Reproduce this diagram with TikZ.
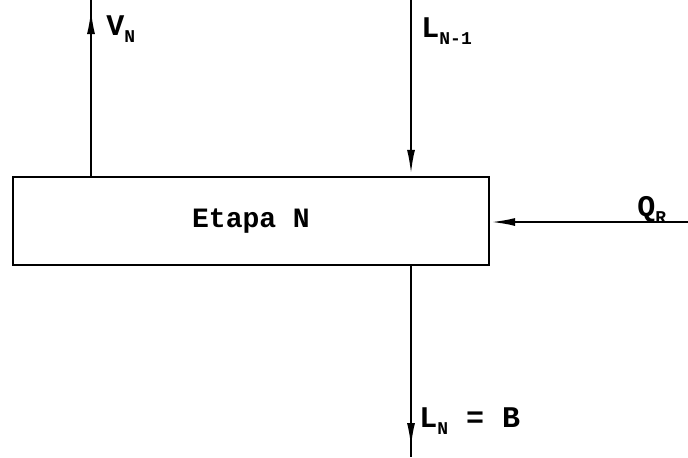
\documentclass[tikz,border=0pt]{standalone}
\usepackage{fontspec}
\setmonofont{Liberation Mono}
\usetikzlibrary{arrows.meta,positioning,calc}
\newcommand{\lowidx}[1]{\raisebox{-0.45ex}{\fontsize{9}{9}\selectfont #1}}

\begin{document}
\begin{tikzpicture}[
    x=0.5pt, y=-0.5pt,
    stage/.style={draw, line width=1.2pt, minimum width=238pt, minimum height=44pt, font=\ttfamily\bfseries\fontsize{14}{16}\selectfont},
    flow/.style={-{Latex[length=12pt,width=4pt]}, line width=1pt},
    plain/.style={line width=1pt},
    lbl/.style={font=\ttfamily\bfseries\fontsize{15}{17}\selectfont, inner sep=0pt, anchor=base west}
]
\useasboundingbox (0,0) rectangle (688,457);

\node[stage] (etapa) at (251,221) {Etapa N};

\coordinate (vntop) at (91,0);
\coordinate (vntip) at (91,10);
\coordinate (lin) at (411,0);
\coordinate (qr) at (688,222);
\coordinate (lntip) at (411,447);
\coordinate (lnend) at (411,457);

\draw[plain] (etapa.north -| vntop) -- (vntop);
\draw[flow] (etapa.north -| vntop) -- (vntip);
\draw[flow, shorten >=1pt] (lin) -- (lin |- etapa.north);
\draw[flow, shorten >=0.5pt] (qr) -- (etapa.east |- qr);
\draw[plain] (etapa.south -| lntip) -- (lnend);
\draw[flow] (etapa.south -| lntip) -- (lntip);

\node[lbl] (vnlbl) at (106,35) {V\lowidx{N}};
\node[lbl] (linlbl) at (421,37) {L\lowidx{N-1}};
\node[lbl] (qrlbl) at (637,216) {Q\lowidx{R}};
\node[lbl] (lnlbl) at (419,427) {L\lowidx{N} = B};
\end{tikzpicture}
\end{document}
